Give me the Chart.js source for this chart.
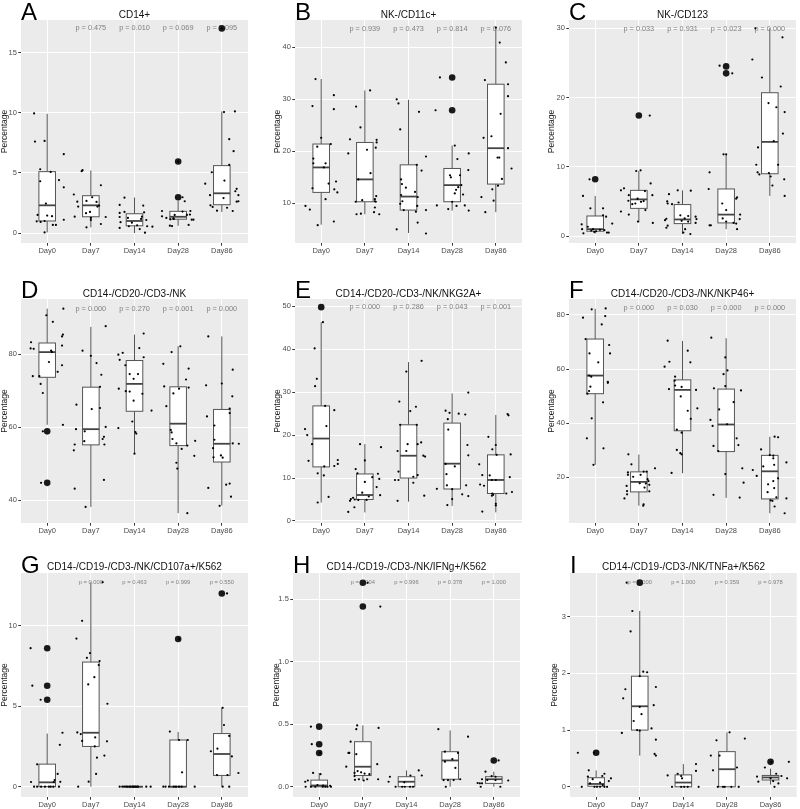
<!DOCTYPE html>
<html lang="en">
<head>
  <meta charset="UTF-8" />
  <title>NK cell subsets over time</title>
  <script src="https://cdn.jsdelivr.net/npm/chart.js"></script>
  <style>
    body { margin: 0; background: #fff; }
    #wrap { position: relative; width: 800px; height: 809px; overflow: hidden; }
    #wrap canvas { position: absolute; }
    .letter {
      position: absolute;
      font: 24px/24px "Liberation Sans", Arial, sans-serif;
      color: #000;
    }
    .title {
      position: absolute;
      text-align: center;
      white-space: nowrap;
      font: 10px/10px "Liberation Sans", Arial, sans-serif;
      color: #111;
    }
  </style>
</head>
<body>
  <div id="wrap"></div>

  <script>
    const FONT = '"Liberation Sans", Arial, sans-serif';
    const DAYS = ['Day0', 'Day7', 'Day14', 'Day28', 'Day86'];

    // box stats per day: [whisker low, q1, median, q3, whisker high]
    // jitter points per day: [x offset in category units, value]

    // A  CD14+
    const boxA = [[0.05,1.0,2.3,5.1,9.9],[0.47,1.35,2.3,3.1,5.2],[0,0.6,1.0,1.6,2.95],[0.6,1.15,1.35,1.8,2.7],[1.75,2.35,3.3,5.6,10.1]];
    const outA = [[],[],[],[5.94,2.97],[17.0]];
    const ptsA = [
      [[-0.30,9.94],[-0.28,7.6],[-0.06,7.65],[0.38,6.55],[-0.16,5.3],[0.08,5.08],[0.27,4.4],[-0.16,4.3],[0.38,3.8],[-0.03,2.45],[-0.22,1.5],[0,1.45],[0.11,1.4],[-0.24,0.97],[-0.15,0.92],[-0.06,1.0],[0.38,1.1],[0.13,0.67],[0.2,0.67],[-0.06,0.05]],
      [[-0.21,5.14],[-0.19,5.22],[-0.39,3.2],[-0.31,2.6],[-0.1,2.67],[0.23,3.97],[0.03,2.97],[0.13,2.58],[0.15,2.2],[0.19,2.28],[-0.29,2.2],[-0.02,1.75],[-0.11,1.65],[0,1.25],[0,1.08],[0.34,1.33],[-0.37,1.36],[0.23,0.75],[-0.1,0.47]],
      [[-0.23,2.94],[-0.34,2.33],[-0.34,1.67],[-0.23,1.75],[-0.34,1.33],[-0.15,1.25],[0.2,2.28],[0.22,1.72],[0.17,1.36],[0.27,1.08],[-0.32,0.9],[-0.34,0.42],[-0.13,0.56],[0.06,0.64],[0.29,0.56],[0.12,0.33],[0.41,0.53],[0.24,0.03],[-0.06,0.86],[0.15,1.17]],
      [[0,5.94],[0.1,2.97],[0.15,2.64],[-0.37,1.83],[-0.27,1.25],[-0.08,1.5],[-0.18,1.14],[-0.1,1.17],[0.28,1.83],[0.27,1.53],[0.31,1.11],[0.35,1.11],[0.1,1.78],[0.2,1.5],[-0.37,1.39],[-0.19,0.61],[-0.14,0.58],[0.24,0.67],[-0.11,1.22]],
      [[0,17.0],[0.05,10.05],[0.3,10.1],[0.17,7.8],[0.27,6.8],[0.17,5.67],[-0.23,5.05],[-0.38,4.1],[0.06,4.36],[0.34,3.67],[0.31,3.47],[0.38,3.14],[-0.27,3.14],[0.04,2.9],[0.34,2.6],[0.38,2.64],[-0.26,2.3],[-0.21,2.17],[0.12,2.1],[-0.11,1.86],[0.25,1.83]]
    ];
    const pA = ['0.475', '0.010', '0.069', '0.095'];
    const ticksA = [0, 5, 10, 15];
    const tickLabA = ['0', '5', '10', '15'];

    // B  NK-/CD11c+
    const boxB = [[5.9,12.1,16.9,21.4,33.9],[7.9,10.3,14.6,21.7,31.7],[4.3,8.7,11.3,17.4,29.9],[8.6,10.3,13.5,16.7,21.1],[8.3,13.7,20.6,32.9,43.8]];
    const outB = [[],[],[],[34.2,27.9],[]];
    const ptsB = [
      [[-0.13,33.9],[-0.2,28.7],[-0.36,9.5],[-0.26,8.8],[-0.08,5.8],[-0.09,20.9],[0,22.6],[-0.18,18.6],[-0.18,17.7],[0.1,17.7],[0.06,16.9],[0.17,13.8],[-0.2,12.9],[0.1,10.8],[0.29,30.8],[0.29,28.1],[0.22,21.4],[0.34,14.2],[0.3,12.7],[0.37,12.1],[0.29,6.5]],
      [[0.12,31.7],[-0.2,28.6],[-0.1,24.6],[-0.38,19.6],[-0.34,22.3],[0.05,20.3],[0.13,15.8],[-0.15,14.6],[0.27,22.2],[0.27,21.7],[0.25,20.7],[-0.21,10.3],[-0.06,10.6],[0.23,10.8],[0.26,11.4],[0.23,10.4],[0.25,10.3],[0.23,9.2],[0.21,8.3],[0.33,7.9],[-0.19,7.9],[-0.09,8.0]],
      [[-0.27,30.0],[-0.23,29.2],[-0.19,24.2],[0.24,27.6],[0.4,19.0],[0.19,17.4],[0.3,16.3],[-0.17,14.6],[-0.15,13.7],[-0.06,13.0],[-0.17,11.6],[-0.14,10.4],[-0.19,9.9],[-0.11,8.7],[0.15,12.2],[0.21,11.2],[0.2,9.5],[0.17,8.4],[0.4,8.7],[0.21,6.3],[-0.27,5.0],[0.4,4.2]],
      [[-0.28,34.2],[-0.38,27.9],[0.06,21.1],[0.38,19.6],[0.12,18.5],[0.37,16.4],[-0.05,15.4],[-0.03,15.0],[0.18,15.4],[0.21,13.5],[0.14,13.1],[0.06,11.9],[0.09,12.6],[0.25,11.7],[0.29,9.6],[0.38,8.6],[0.1,9.5],[-0.09,8.9],[-0.35,9.6],[0,10.3]],
      [[0,43.8],[0.09,40.9],[0.23,37.1],[0.28,32.9],[0.28,30.6],[-0.25,33.7],[0.11,27.2],[-0.1,22.9],[-0.28,22.6],[0.28,20.6],[0.04,18.8],[0.08,18.8],[0.36,16.7],[0.14,14.7],[0.05,13.4],[-0.08,12.7],[-0.33,11.2],[-0.05,10.5],[-0.24,8.3]]
    ];
    const pB = ['0.939', '0.473', '0.814', '0.076'];
    const ticksB = [10, 20, 30, 40];
    const tickLabB = ['10', '20', '30', '40'];

    // C  NK-/CD123
    const boxC = [[0.35,0.7,1.0,2.9,5.8],[2.0,4.0,5.3,6.6,9.4],[0.3,1.8,2.4,4.55,6.6],[1.0,1.9,3.1,6.8,11.8],[5.8,9.0,13.6,20.7,30.0]];
    const outC = [[8.2],[17.4],[],[24.5,23.5],[]];
    const ptsC = [
      [[-0.13,8.2],[-0.28,5.8],[-0.11,4.0],[0.18,4.0],[0.18,3.0],[0.25,2.8],[0.39,1.8],[-0.31,1.7],[-0.3,1.0],[-0.17,1.35],[-0.05,1.0],[-0.09,0.8],[0.02,0.7],[0.11,0.9],[0.21,0.85],[0.27,0.5],[0.31,0.5],[-0.27,0.4],[-0.02,0.6]],
      [[0.25,17.4],[-0.06,9.4],[0.04,9.5],[0.27,7.6],[0.14,6.5],[-0.41,6.6],[-0.34,6.9],[0.31,5.9],[-0.23,5.9],[-0.03,5.4],[-0.24,5.1],[0.05,4.95],[-0.08,4.7],[-0.15,4.6],[0.11,5.05],[0.15,3.75],[-0.41,3.55],[-0.23,3.1],[-0.02,2.1],[0.32,1.9]],
      [[-0.11,6.6],[0.19,6.55],[-0.31,6.05],[-0.35,5.0],[-0.34,4.7],[-0.24,4.6],[-0.09,4.85],[-0.05,3.0],[0.13,2.9],[0.05,2.55],[0.3,2.8],[0.32,2.45],[-0.4,2.3],[-0.37,2.5],[-0.02,2.2],[0.13,2.1],[0.3,1.9],[-0.34,1.5],[-0.37,1.2],[0.06,1.0],[0.02,0.5],[0.18,0.3]],
      [[-0.15,24.6],[0.14,23.5],[-0.38,9.2],[-0.4,6.8],[-0.06,11.8],[0,11.8],[0.25,5.6],[0.23,5.4],[-0.09,4.7],[0,3.75],[0.32,3.1],[-0.08,2.55],[0,2.1],[0.31,2.45],[0.17,1.9],[0.23,1.8],[0.25,1.0],[-0.38,1.55],[-0.35,1.55]],
      [[-0.33,30.0],[0.29,28.7],[-0.4,25.5],[-0.18,22.9],[0.25,21.6],[-0.03,19.2],[0.15,18.6],[0.34,17.9],[0.3,14.8],[0.09,13.7],[-0.27,12.8],[-0.31,10.3],[0.19,10.3],[-0.28,9.2],[-0.24,8.9],[-0.02,9.1],[0.02,8.6],[0.33,8.2],[0.06,7.3],[0.34,5.8]]
    ];
    const pC = ['0.033', '0.931', '0.023', '0.000'];
    const ticksC = [0, 10, 20, 30];
    const tickLabC = ['0', '10', '20', '30'];

    // D  CD14-/CD20-/CD3-/NK
    const boxD = [[60.7,73.7,80.6,83.1,92.5],[38.2,55.2,59.5,71.0,87.5],[52.9,64.4,71.9,78.3,85.4],[36.5,55.0,61.0,71.1,82.2],[38.6,50.5,55.5,64.9,84.9]];
    const outD = [[58.9,44.8],[],[],[],[]];
    const ptsD = [
      [[0.37,92.5],[-0.02,90.7],[0.13,88.9],[0.36,85.4],[0.34,84.9],[-0.37,83.3],[-0.38,81.6],[-0.31,81.5],[0.09,81.0],[0.11,80.6],[0.34,82.4],[0.04,77.9],[0.34,77.0],[0.24,75.2],[-0.33,74.0],[-0.18,74.0],[-0.15,71.9],[-0.1,69.4],[0.36,60.7],[-0.14,44.8],[-0.1,58.9]],
      [[0.34,87.7],[-0.19,81.0],[0,79.6],[0.13,77.6],[0.24,74.4],[0.21,71.1],[-0.33,66.2],[0.02,65.0],[0.21,65.3],[-0.34,59.5],[-0.14,58.9],[0.34,60.1],[0.3,57.4],[0.27,56.8],[-0.15,56.2],[-0.37,55.3],[0.31,55.3],[-0.39,53.7],[0.3,45.6],[-0.37,43.2],[-0.12,38.2]],
      [[0.21,85.7],[0.11,81.7],[0.21,79.2],[-0.37,79.9],[-0.34,78.5],[-0.27,80.4],[-0.21,77.0],[-0.11,74.6],[0.08,74.6],[-0.02,73.3],[-0.36,70.6],[-0.2,69.9],[0.18,69.2],[-0.11,69.8],[-0.02,67.3],[0.39,64.6],[-0.05,61.6],[-0.37,59.8],[0.02,58.7],[0.04,58.3],[0,52.8]],
      [[0.05,82.2],[-0.15,80.6],[-0.34,77.4],[0.24,76.1],[0.18,73.1],[-0.32,71.2],[0.02,70.6],[0.24,70.9],[-0.27,65.8],[-0.11,69.3],[-0.17,59.3],[-0.15,58.6],[-0.13,56.8],[-0.04,55.6],[0.08,54.1],[0.21,55.0],[0.39,56.3],[0.37,52.2],[-0.04,50.3],[-0.02,48.7],[0.21,36.5]],
      [[-0.31,84.9],[0.25,75.8],[0.24,68.5],[0.18,63.9],[-0.36,71.5],[0,72.0],[-0.34,63.0],[-0.17,60.5],[0.18,65.1],[-0.17,56.6],[0.25,55.6],[0.39,55.5],[-0.2,54.3],[-0.19,51.8],[-0.02,52.3],[0.02,51.7],[-0.31,43.4],[0.1,44.3],[0.18,44.6],[0.21,41.0],[-0.05,38.5]]
    ];
    const pD = ['0.000', '0.270', '0.001', '0.000'];
    const ticksD = [40, 60, 80];
    const tickLabD = ['40', '60', '80'];

    // E  CD14-/CD20-/CD3-/NK/NKG2A+
    const boxE = [[4.3,12.6,19.2,26.8,46.3],[2.0,5.0,6.05,10.95,17.9],[4.5,10.0,15.2,22.4,37.0],[3.5,7.45,13.35,22.8,29.7],[2.0,6.4,9.55,15.4,24.7]];
    const outE = [[49.8],[],[],[],[]];
    const ptsE = [
      [[0.04,46.3],[-0.15,40.2],[-0.1,33.1],[-0.14,31.4],[0.09,26.8],[0.3,25.8],[-0.37,21.4],[-0.32,20.0],[-0.21,17.9],[0.12,22.1],[-0.29,14.0],[0.38,14.2],[0.38,13.3],[0.3,12.8],[0.07,12.7],[-0.08,11.1],[0.06,10.6],[-0.08,4.3],[0.17,5.6]],
      [[-0.11,17.9],[0.37,17.2],[0,14.1],[-0.21,12.1],[-0.17,11.1],[0,9.1],[0.3,11.0],[0.33,9.8],[0.17,10.2],[0.27,7.9],[0.35,6.0],[-0.06,6.6],[0.09,5.7],[-0.27,5.4],[-0.32,5.1],[-0.23,5.0],[-0.15,4.9],[0.04,4.9],[-0.34,4.7],[-0.24,3.2],[-0.38,2.1]],
      [[0.3,37.3],[-0.05,34.8],[-0.21,27.8],[0.17,26.6],[0.04,25.6],[-0.19,22.4],[0.19,22.4],[-0.02,17.9],[0.21,17.9],[0.29,18.3],[-0.25,16.3],[-0.05,16.3],[0.34,15.2],[0.38,15.0],[-0.23,11.5],[0.21,10.7],[0.11,10.3],[-0.31,9.55],[-0.23,9.55],[0.11,8.9],[0.36,5.9],[-0.25,4.7]],
      [[0.37,29.9],[-0.15,25.7],[-0.06,25.2],[0.15,25.0],[0.3,24.8],[-0.1,23.7],[-0.09,21.3],[0.35,17.7],[0.37,15.3],[-0.15,13.3],[0.06,12.7],[-0.13,10.9],[-0.12,8.3],[0.32,8.3],[0.23,6.2],[0.37,5.8],[0,7.4],[0,5.1],[-0.35,7.5],[-0.11,3.7]],
      [[0.27,24.9],[0.29,24.6],[-0.17,19.6],[0,17.7],[-0.08,16.7],[0.02,15.4],[0.34,15.5],[-0.38,13.2],[-0.14,10.6],[-0.09,9.55],[0,9.55],[-0.31,10.7],[0.32,10.2],[-0.36,8.5],[-0.27,8.2],[-0.08,6.4],[-0.09,5.9],[-0.06,6.1],[0.24,6.4],[0.37,6.75],[0,4.0],[0,3.6],[-0.31,2.2]]
    ];
    const pE = ['0.000', '0.286', '0.043', '0.001'];
    const ticksE = [0, 10, 20, 30, 40, 50];
    const tickLabE = ['0', '10', '20', '30', '40', '50'];

    // F  CD14-/CD20-/CD3-/NK/NKP46+
    const boxF = [[24.6,50.9,57.6,71.1,82.3],[9.5,14.6,18.3,22.0,28.4],[21.5,37.2,52.3,56.0,70.4],[12.4,29.5,39.5,52.6,71.4],[6.7,12.0,22.2,28.1,35.0]];
    const outF = [[],[],[],[],[]];
    const ptsF = [
      [[0.24,82.4],[-0.08,82.1],[-0.28,79.0],[0.23,79.6],[0.15,76.5],[0.32,68.9],[0.34,65.8],[-0.22,71.1],[-0.13,65.8],[0.07,62.5],[-0.14,57.6],[-0.09,57.2],[0.29,55.3],[0.29,54.9],[-0.11,53.5],[-0.14,51.9],[-0.18,50.9],[0.18,47.7],[-0.08,41.8],[-0.19,34.4],[0.19,30.7],[-0.04,24.6]],
      [[-0.24,28.5],[-0.17,24.8],[-0.25,21.8],[-0.25,20.9],[-0.13,20.2],[0.04,20.9],[0.11,22.1],[0.18,22.1],[0.37,23.3],[0.2,19.3],[0.22,18.6],[0.16,17.7],[0.02,17.8],[0.13,16.2],[-0.28,16.8],[0.24,17.2],[-0.27,14.9],[-0.27,13.7],[-0.33,12.2],[0.24,14.8],[0.11,10.0],[0.1,9.5]],
      [[-0.34,70.5],[0.12,66.8],[-0.3,62.7],[0.18,62.5],[-0.41,60.9],[-0.17,57.2],[-0.18,55.7],[0.31,52.3],[-0.31,52.6],[-0.17,53.9],[-0.02,53.4],[-0.04,49.9],[0.12,44.6],[0.34,45.5],[0.19,41.6],[-0.13,37.6],[-0.02,36.5],[-0.13,30.1],[-0.02,28.5],[-0.05,28.9],[-0.25,21.6]],
      [[-0.34,71.6],[-0.02,64.3],[-0.06,58.1],[0.03,59.5],[-0.02,53.7],[-0.28,52.9],[0.34,52.1],[0.17,47.8],[-0.16,45.1],[-0.36,41.2],[-0.31,39.0],[0.02,39.6],[-0.29,31.6],[0.24,34.4],[0.28,31.9],[-0.18,29.7],[0.37,23.3],[0.4,18.0],[-0.02,21.2],[-0.29,13.5],[0.31,12.5]],
      [[0.11,35.0],[0.19,34.8],[-0.2,30.3],[0.38,25.5],[-0.39,22.7],[-0.3,20.5],[-0.15,24.0],[0,28.2],[0.08,28.0],[0.08,27.0],[0.1,24.6],[0.19,19.6],[0.08,18.6],[-0.05,14.5],[-0.04,17.4],[0.1,16.0],[0.02,11.5],[0.06,11.3],[0.15,12.6],[0.38,12.2],[0.11,9.2],[0.34,6.7]]
    ];
    const pF = ['0.000', '0.030', '0.000', '0.000'];
    const ticksF = [20, 40, 60, 80];
    const tickLabF = ['20', '40', '60', '80'];

    // G  CD14-/CD19-/CD3-/NK/CD107a+/K562
    const boxG = [[0,0,0.27,1.4,3.3],[0,2.5,3.35,7.74,12.7],[0,0,0,0,0],[0,0,0,2.9,3.4],[0,0.7,2.03,3.3,4.9]];
    const outG = [[8.6,6.27,5.4],[],[],[9.17],[12.0]];
    const ptsG = [
      [[-0.38,8.6],[-0.34,6.27],[-0.15,5.4],[0.35,3.35],[0.29,2.6],[-0.23,1.39],[0.24,0.79],[-0.37,0.29],[0.3,0.3],[0.17,0.41],[0.15,0.29],[-0.3,0],[-0.23,0],[-0.14,0],[-0.05,0],[0.04,0],[0.08,0],[0.14,0],[0.27,0]],
      [[0.27,12.7],[-0.2,10.3],[-0.33,9.2],[-0.02,8.3],[-0.09,8.0],[0.2,7.8],[0.18,7.55],[0.08,6.8],[-0.06,6.35],[0.38,5.15],[-0.31,3.37],[-0.23,3.27],[-0.2,2.84],[0.1,3.06],[0.37,2.82],[0.09,2.5],[0.14,1.8],[0.31,1.93],[0.12,0.79],[-0.05,0.31],[-0.29,0]],
      [[-0.34,0],[-0.28,0],[-0.24,0],[-0.2,0],[-0.17,0],[-0.12,0],[-0.09,0],[-0.05,0],[-0.03,0],[0,0],[0.03,0],[0.06,0],[0.08,0],[0.27,0],[0.37,0]],
      [[0.02,9.17],[-0.19,3.42],[0.02,2.9],[0.22,2.9],[0.09,0.89],[-0.34,0],[-0.29,0],[-0.21,0],[-0.1,0],[-0.05,0],[0.02,0],[0.08,0],[0.38,0]],
      [[0.12,12.0],[0.02,4.9],[0.05,3.83],[0.17,3.15],[-0.1,2.36],[-0.25,2.2],[0.23,1.88],[0.38,0.85],[-0.11,0.72],[0.13,0.72],[0.02,0],[0.17,0]]
    ];
    const pG = ['0.000', '0.463', '0.999', '0.550'];
    const ticksG = [0, 5, 10];
    const tickLabG = ['0', '5', '10'];

    // H  CD14-/CD19-/CD3-/NK/IFNg+/K562
    const boxH = [[0,0,0.01,0.053,0.11],[0.05,0.09,0.16,0.36,0.49],[0,0,0.04,0.08,0.13],[0,0.06,0.21,0.28,0.45],[0,0.027,0.06,0.08,0.12]];
    const outH = [[0.48,0.34,0.27],[1.63,1.44],[],[],[0.21]];
    const ptsH = [
      [[-0.19,0.48],[-0.17,0.34],[0.02,0.27],[-0.14,0.11],[0.03,0.1],[-0.32,0.04],[-0.26,0.05],[-0.31,0],[-0.19,0],[-0.09,0],[-0.04,0.013],[0.08,0],[0.14,0],[0.19,0],[0.25,0.008],[0.27,0],[0.09,0.01]],
      [[0.11,1.63],[0.4,1.44],[-0.13,0.49],[-0.15,0.46],[0.36,0.47],[-0.28,0.36],[-0.33,0.27],[-0.31,0.27],[-0.15,0.26],[-0.38,0.16],[0.33,0.18],[-0.12,0.125],[-0.19,0.11],[-0.04,0.115],[0.04,0.105],[0.15,0.1],[-0.19,0.085],[-0.09,0.06],[0.02,0.05],[0.1,0.06],[0.35,0.06],[-0.18,0.055]],
      [[0.28,0.13],[0.35,0.09],[0.09,0.09],[-0.38,0.08],[-0.41,0.04],[-0.05,0.035],[-0.25,0],[-0.1,0],[-0.04,0],[0.08,0],[0.15,0]],
      [[-0.27,0.46],[0.41,0.4],[-0.12,0.28],[0.18,0.27],[0.05,0.22],[-0.12,0.2],[0.12,0.15],[-0.15,0.053],[-0.05,0.053],[0.08,0.053],[0.23,0.06],[-0.1,0]],
      [[0.11,0.21],[-0.19,0.12],[-0.05,0.085],[0.04,0.08],[-0.27,0.06],[-0.15,0.053],[-0.37,0.03],[-0.32,0.027],[-0.27,0.027],[0.04,0.053],[0.33,0.05],[0.15,0],[-0.3,0]]
    ];
    const pH = ['0.004', '0.996', '0.378', '1.000'];
    const ticksH = [0, 0.5, 1, 1.5];
    const tickLabH = ['0.0', '0.5', '1.0', '1.5'];

    // I  CD14-/CD19-/CD3-/NK/TNFa+/K562
    const boxI = [[0,0.01,0.05,0.16,0.29],[0.55,1.0,1.42,1.95,3.1],[0,0,0.075,0.21,0.4],[0,0,0.31,0.62,0.96],[0.04,0.12,0.165,0.2,0.32]];
    const outI = [[0.6],[3.6],[],[],[0.44]];
    const ptsI = [
      [[-0.05,0.6],[-0.42,0.6],[-0.17,0.29],[-0.19,0.18],[-0.08,0.135],[0.14,0.19],[0.19,0.23],[0.34,0.15],[0.29,0.1],[0.09,0.075],[-0.14,0.06],[-0.33,0],[-0.04,0],[0.02,0],[0.09,0],[0.19,0],[0.25,0],[0.15,0.03]],
      [[-0.3,3.6],[-0.17,3.1],[-0.21,2.74],[0.08,2.03],[0.17,2.02],[0,1.95],[0.37,1.76],[-0.33,1.72],[-0.38,1.56],[0.32,1.44],[0,1.41],[0.04,1.28],[-0.14,1.16],[0.27,1.03],[-0.06,1.0],[0,0.99],[-0.41,0.95],[0.37,0.83],[0.34,0.58],[0.37,0.55]],
      [[0.29,0.4],[-0.36,0.2],[-0.13,0.23],[-0.05,0.19],[-0.03,0.15],[0.29,0.28],[-0.26,0],[-0.05,0],[0.02,0],[0.1,0],[0.35,0]],
      [[0.06,0.96],[0.41,0.85],[-0.24,0.82],[-0.37,0.55],[-0.17,0.55],[-0.32,0.29],[0.23,0.34],[-0.21,0],[-0.09,0],[-0.05,0],[0.1,0],[0.27,0]],
      [[0.02,0.44],[0.42,0.44],[-0.13,0.34],[-0.31,0.18],[-0.28,0.09],[0.13,0.23],[0.25,0.19],[0.38,0.15],[0,0.15],[0.06,0.1],[0.18,0.06],[0.09,0]]
    ];
    const pI = ['0.000', '1.000', '0.359', '0.978'];
    const ticksI = [0, 1, 2, 3];
    const tickLabI = ['0', '1', '2', '3'];

    const PANELS = [
      { id: 'A', title: 'CD14+', box: boxA, out: outA, pts: ptsA, p: pA, pY: 17.0, yMin: -0.83, yMax: 17.7, ticks: ticksA, tickLab: tickLabA },
      { id: 'B', title: 'NK-/CD11c+', box: boxB, out: outB, pts: ptsB, p: pB, pY: 43.5, yMin: 2.37, yMax: 45.25, ticks: ticksB, tickLab: tickLabB },
      { id: 'C', title: 'NK-/CD123', box: boxC, out: outC, pts: ptsC, p: pC, pY: 29.9, yMin: -1.0, yMax: 31.2, ticks: ticksC, tickLab: tickLabC },
      { id: 'D', title: 'CD14-/CD20-/CD3-/NK', box: boxD, out: outD, pts: ptsD, p: pD, pY: 92.5, yMin: 33.8, yMax: 95.15, ticks: ticksD, tickLab: tickLabD },
      { id: 'E', title: 'CD14-/CD20-/CD3-/NK/NKG2A+', box: boxE, out: outE, pts: ptsE, p: pE, pY: 49.8, yMin: -0.47, yMax: 51.7, ticks: ticksE, tickLab: tickLabE },
      { id: 'F', title: 'CD14-/CD20-/CD3-/NK/NKP46+', box: boxF, out: outF, pts: ptsF, p: pF, pY: 82.4, yMin: 3.1, yMax: 85.9, ticks: ticksF, tickLab: tickLabF },
      { id: 'G', title: 'CD14-/CD19-/CD3-/NK/CD107a+/K562', box: boxG, out: outG, pts: ptsG, p: pG, pY: 12.7, yMin: -0.64, yMax: 13.27, ticks: ticksG, tickLab: tickLabG },
      { id: 'H', title: 'CD14-/CD19-/CD3-/NK/IFNg+/K562', box: boxH, out: outH, pts: ptsH, p: pH, pY: 1.63, yMin: -0.082, yMax: 1.708, ticks: ticksH, tickLab: tickLabH },
      { id: 'I', title: 'CD14-/CD19-/CD3-/NK/TNFa+/K562', box: boxI, out: outI, pts: ptsI, p: pI, pY: 3.6, yMin: -0.18, yMax: 3.77, ticks: ticksI, tickLab: tickLabI }
    ];

    // page layout: canvas cell [x, y, w, h], plot rect [l, t, r, b], y title offset, p-value font size
    const LAYOUT = {
      A: { cell: [0, 0, 265, 265],     plot: [21, 20, 248, 243],   yTitle: 0,  pFont: 7.3, titleTop: 10,  letterTop: 0 },
      B: { cell: [265, 0, 265, 265],   plot: [295, 20, 522, 243],  yTitle: 8,  pFont: 7.3, titleTop: 10,  letterTop: 0 },
      C: { cell: [530, 0, 270, 265],   plot: [569, 20, 796, 243],  yTitle: 17, pFont: 7.3, titleTop: 10,  letterTop: 0 },
      D: { cell: [0, 265, 265, 270],   plot: [21, 299, 248, 523],  yTitle: 0,  pFont: 7.3, titleTop: 288.5, letterTop: 278 },
      E: { cell: [265, 265, 265, 270], plot: [295, 299, 522, 523], yTitle: 8,  pFont: 7.3, titleTop: 288.5, letterTop: 278 },
      F: { cell: [530, 265, 270, 270], plot: [569, 299, 796, 523], yTitle: 17, pFont: 7.3, titleTop: 288.5, letterTop: 278 },
      G: { cell: [0, 535, 265, 274],   plot: [21, 573, 248, 797],  yTitle: 0,  pFont: 5.8, titleTop: 562, letterTop: 553 },
      H: { cell: [265, 535, 265, 274], plot: [293, 573, 520, 797], yTitle: 7,  pFont: 5.8, titleTop: 562, letterTop: 553 },
      I: { cell: [530, 535, 270, 274], plot: [570, 573, 797, 797], yTitle: 20, pFont: 5.8, titleTop: 562, letterTop: 553 }
    };

    const BOX_W = 0.38;
    const byCanvas = {};

    // panel background, boxes, whiskers, medians and p-values
    const boxPlugin = {
      id: 'ggbox',
      beforeDraw(chart) {
        const { ctx, chartArea: a } = chart;
        ctx.save();
        ctx.fillStyle = '#ebebeb';
        ctx.fillRect(a.left, a.top, a.right - a.left, a.bottom - a.top);
        ctx.restore();
      },
      beforeDatasetsDraw(chart) {
        const pn = byCanvas[chart.canvas.id];
        const L = LAYOUT[pn.id];
        const { ctx } = chart;
        const xs = chart.scales.x, ys = chart.scales.y;
        ctx.save();
        pn.box.forEach((b, i) => {
          const [lo, q1, med, q3, hi] = b;
          const xc = xs.getPixelForValue(i);
          const x0 = xs.getPixelForValue(i - BOX_W / 2);
          const x1 = xs.getPixelForValue(i + BOX_W / 2);
          ctx.strokeStyle = '#555';
          ctx.lineWidth = 1;
          ctx.beginPath();
          ctx.moveTo(xc, ys.getPixelForValue(hi));
          ctx.lineTo(xc, ys.getPixelForValue(q3));
          ctx.moveTo(xc, ys.getPixelForValue(q1));
          ctx.lineTo(xc, ys.getPixelForValue(lo));
          ctx.stroke();
          const yt = ys.getPixelForValue(q3), yb = ys.getPixelForValue(q1);
          ctx.fillStyle = '#fff';
          ctx.fillRect(x0, yt, x1 - x0, yb - yt);
          ctx.strokeRect(x0, yt, x1 - x0, yb - yt);
          ctx.strokeStyle = '#444';
          ctx.lineWidth = 1.8;
          ctx.beginPath();
          ctx.moveTo(x0, ys.getPixelForValue(med));
          ctx.lineTo(x1, ys.getPixelForValue(med));
          ctx.stroke();
        });
        ctx.fillStyle = '#808080';
        ctx.font = L.pFont + 'px ' + FONT;
        ctx.textAlign = 'center';
        ctx.textBaseline = 'middle';
        pn.p.forEach((txt, k) => {
          ctx.fillText('p = ' + txt, xs.getPixelForValue(k + 1), ys.getPixelForValue(pn.pY));
        });
        ctx.restore();
      }
    };

    const wrap = document.getElementById('wrap');

    PANELS.forEach(pn => {
      const L = LAYOUT[pn.id];
      const [cx, cy, cw, ch] = L.cell;
      const [l, t, r, b] = L.plot;

      const canvas = document.createElement('canvas');
      canvas.id = 'chart' + pn.id;
      canvas.width = cw;
      canvas.height = ch;
      canvas.style.left = cx + 'px';
      canvas.style.top = cy + 'px';
      canvas.style.width = cw + 'px';
      canvas.style.height = ch + 'px';
      wrap.appendChild(canvas);
      byCanvas[canvas.id] = pn;

      const letter = document.createElement('div');
      letter.className = 'letter';
      letter.textContent = pn.id;
      letter.style.left = l + 'px';
      letter.style.top = L.letterTop + 'px';
      wrap.appendChild(letter);

      const title = document.createElement('div');
      title.className = 'title';
      title.textContent = pn.title;
      title.style.left = l + 'px';
      title.style.width = (r - l) + 'px';
      title.style.top = L.titleTop + 'px';
      wrap.appendChild(title);

      const jitter = [];
      pn.pts.forEach((grp, i) => grp.forEach(([dx, v]) => jitter.push({ x: i + dx, y: v })));
      const outl = [];
      pn.out.forEach((grp, i) => grp.forEach(v => outl.push({ x: i, y: v })));

      new Chart(canvas, {
        type: 'scatter',
        data: {
          datasets: [
            { data: jitter, pointRadius: 1.1, pointHoverRadius: 1.1, backgroundColor: '#000', borderWidth: 0 },
            { data: outl, pointRadius: 3.3, pointHoverRadius: 3.3, backgroundColor: '#1a1a1a', borderWidth: 0 }
          ]
        },
        options: {
          responsive: false,
          animation: false,
          devicePixelRatio: 1,
          events: [],
          layout: { padding: { left: 0, top: t - cy, right: cx + cw - r, bottom: 0 } },
          plugins: { legend: { display: false }, tooltip: { enabled: false } },
          scales: {
            x: {
              type: 'linear',
              min: -0.6,
              max: 4.6,
              afterBuildTicks: s => { s.ticks = DAYS.map((d, i) => ({ value: i })); },
              afterFit: s => { s.height = cy + ch - b; },
              border: { display: false },
              grid: { color: '#fff', lineWidth: 1, tickColor: '#333', tickLength: 2.7 },
              ticks: {
                autoSkip: false, maxRotation: 0, padding: 1,
                color: '#4d4d4d', font: { family: FONT, size: 7.5 },
                callback: (v, i) => DAYS[i]
              }
            },
            y: {
              type: 'linear',
              min: pn.yMin,
              max: pn.yMax,
              afterBuildTicks: s => { s.ticks = pn.ticks.map(v => ({ value: v })); },
              afterFit: s => { s.width = l - cx; },
              border: { display: false },
              grid: { color: '#fff', lineWidth: 1, tickColor: '#333', tickLength: 2.7 },
              title: {
                display: true, text: 'Percentage', color: '#1a1a1a',
                font: { family: FONT, size: 8.5 }, padding: { top: L.yTitle, bottom: 0 }
              },
              ticks: {
                autoSkip: false, padding: 1.5,
                color: '#4d4d4d', font: { family: FONT, size: 7.5 },
                callback: (v, i) => pn.tickLab[i]
              }
            }
          }
        },
        plugins: [boxPlugin]
      });
    });
  </script>
</body>
</html>
